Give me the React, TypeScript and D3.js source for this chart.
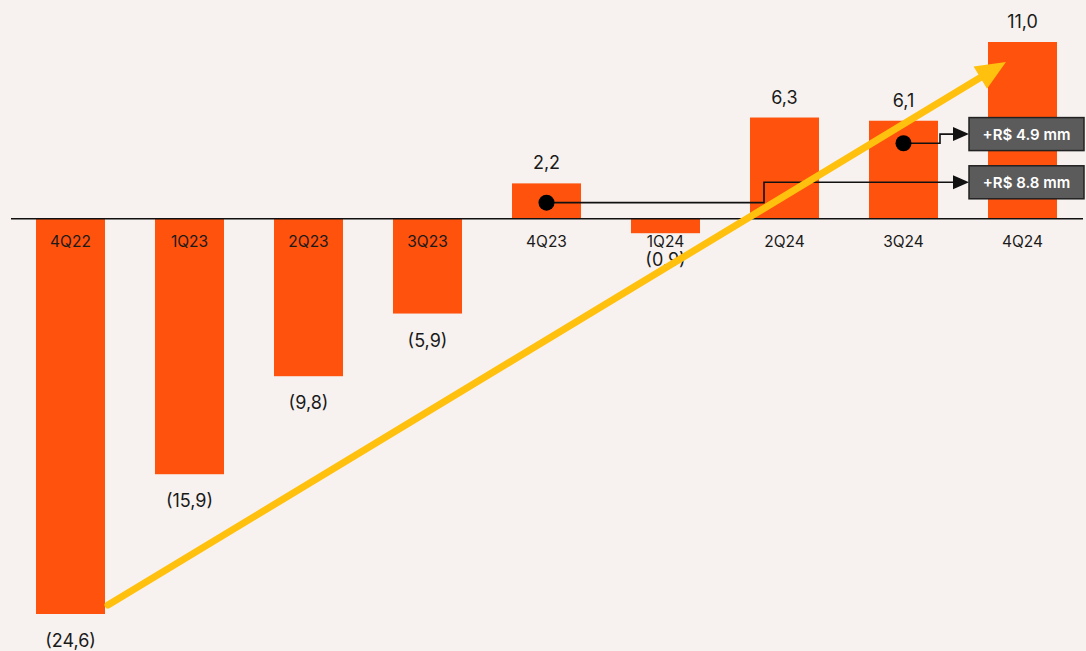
import React from "react";
import * as d3 from "d3";

const categories = ["4Q22", "1Q23", "2Q23", "3Q23", "4Q23", "1Q24", "2Q24", "3Q24", "4Q24"];
const values = [-24.6, -15.9, -9.8, -5.9, 2.2, -0.9, 6.3, 6.1, 11.0];
const valueLabels = ["(24,6)", "(15,9)", "(9,8)", "(5,9)", "2,2", "(0,9)", "6,3", "6,1", "11,0"];
const annotations = [
  { from: "3Q24", level: 4.7, stepX: 940, boxLevel: 5.3, text: "+R$ 4.9 mm" },
  { from: "4Q23", level: 1.0, stepX: 764, boxLevel: 2.3, text: "+R$ 8.8 mm" },
];

const W = 1086;
const H = 651;
const FONT = "Inter, 'Noto Sans', sans-serif";

export default function App() {
  const x = d3
    .scaleBand<string>()
    .domain(categories)
    .range([11, 1082])
    .paddingInner(0.42)
    .paddingOuter(0.21);
  const y = d3.scaleLinear().domain([-24.6, 11]).range([614, 42]);
  const bw = x.bandwidth();
  const y0 = y(0);

  const first = categories[0];
  const last = categories[categories.length - 1];
  const ax1 = (x(first) as number) + bw + 3;
  const ay1 = y(values[0]) - 9;
  const ax2 = (x(last) as number) + 18;
  const ay2 = y(values[values.length - 1]) + 20;
  const ang = Math.atan2(ay2 - ay1, ax2 - ax1);
  const headLen = 30;
  const headW = 13;
  const bx = ax2 - headLen * Math.cos(ang);
  const by = ay2 - headLen * Math.sin(ang);
  const px = -Math.sin(ang);
  const py = Math.cos(ang);

  const boxX = 969;
  const boxW = 115;
  const boxH = 33;

  return (
    <svg width={W} height={H} style={{ position: "absolute", left: 0, top: 0, background: "#F7F2EF" }}>
      <rect x={0} y={0} width={W} height={H} fill="#F7F2EF" />
      {categories.map((c, i) => {
        const v = values[i];
        const top = Math.min(y(v), y0);
        const h = Math.abs(y(v) - y0);
        return <rect key={c} x={x(c)} y={top} width={bw} height={h} fill="#FF520D" />;
      })}
      <line x1={11} x2={1083} y1={y0} y2={y0} stroke="#111" strokeWidth={1.6} />
      {categories.map((c, i) => (
        <text
          key={"c" + c}
          x={(x(c) as number) + bw / 2}
          y={y0 + 28}
          textAnchor="middle"
          fontFamily={FONT}
          fontSize={15.5}
          fill="#1a1a1a"
        >
          {c}
        </text>
      ))}
      {categories.map((c, i) => {
        const v = values[i];
        const ty = v >= 0 ? y(v) - 14 : y(v) + 33;
        return (
          <text
            key={"v" + c}
            x={(x(c) as number) + bw / 2}
            y={ty}
            textAnchor="middle"
            fontFamily={FONT}
            fontSize={18}
            fill="#1a1a1a"
          >
            {valueLabels[i]}
          </text>
        );
      })}
      {annotations.map((a) => {
        const cx = (x(a.from) as number) + bw / 2;
        const cy = y(a.level);
        const ly = y(a.boxLevel) + 0.5;
        const boxY = ly - boxH / 2;
        return (
          <g key={a.text}>
            <path
              d={`M${cx},${cy}H${a.stepX}V${ly}H${boxX - 14}`}
              fill="none"
              stroke="#111"
              strokeWidth={1.6}
            />
            <path d={`M${boxX - 16},${ly - 7}L${boxX},${ly}L${boxX - 16},${ly + 7}Z`} fill="#111" />
            <circle cx={cx} cy={cy} r={8} fill="#000" />
            <rect x={boxX} y={boxY} width={boxW} height={boxH} fill="#5B5B5B" stroke="#222" strokeWidth={1.5} />
            <text
              x={boxX + boxW / 2}
              y={ly + 5.5}
              textAnchor="middle"
              fontFamily={FONT}
              fontWeight="600"
              fontSize={15}
              fill="#fff"
            >
              {a.text}
            </text>
          </g>
        );
      })}
      <line x1={ax1} y1={ay1} x2={bx + 4 * Math.cos(ang)} y2={by + 4 * Math.sin(ang)} stroke="#FFC00E" strokeWidth={7} strokeLinecap="round" />
      <path
        d={`M${ax2},${ay2}L${bx + px * headW},${by + py * headW}L${bx - px * headW},${by - py * headW}Z`}
        fill="#FFC00E"
      />
    </svg>
  );
}
